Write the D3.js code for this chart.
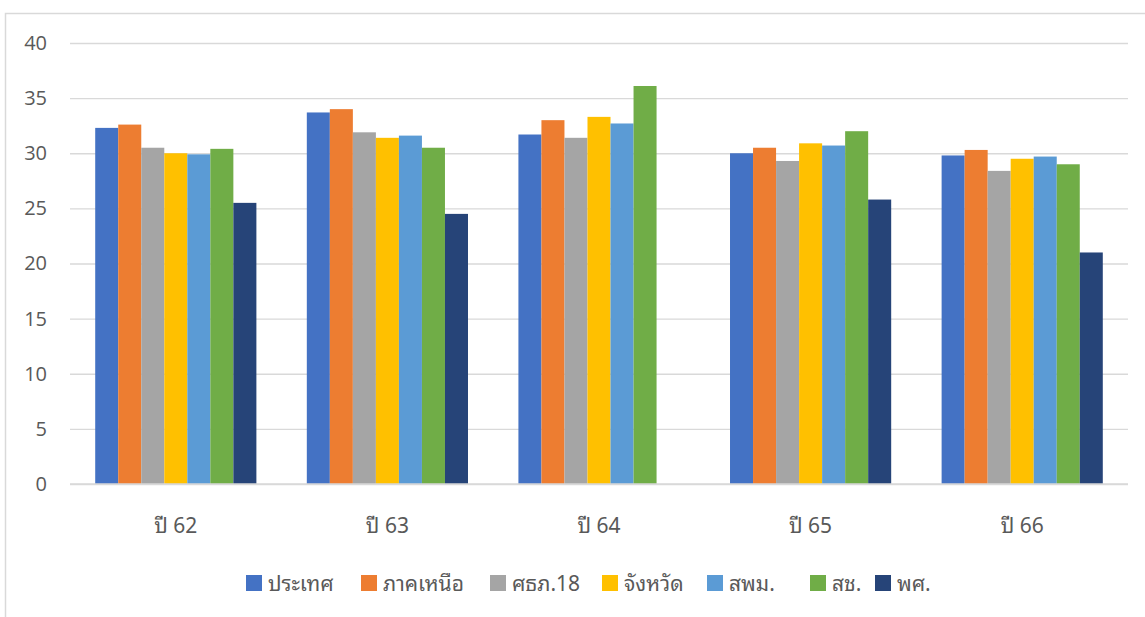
<!DOCTYPE html>
<html>
<head>
<meta charset="utf-8">
<script src="https://cdn.jsdelivr.net/npm/d3@7"></script>
<style>
  body { margin: 0; background: #fff; }
  svg text { font-family: "Noto Sans Thai Looped", "Leelawadee UI", Tahoma, "Noto Sans Thai", "Noto Sans", "Open Sans", sans-serif; fill: #595959; }
</style>
</head>
<body>
<svg id="barchart" width="1145" height="617"></svg>
<script>
(function () {
  // data
  var years = ["ปี 62", "ปี 63", "ปี 64", "ปี 65", "ปี 66"];
  var seriesNames = ["ประเทศ", "ภาคเหนือ", "ศธภ.18", "จังหวัด", "สพม.", "สช.", "พศ."];
  var prathet = [32.3, 33.7, 31.7, 30.0, 29.8];
  var phaknuea = [32.6, 34.0, 33.0, 30.5, 30.3];
  var sthp18 = [30.5, 31.9, 31.4, 29.3, 28.4];
  var changwat = [30.0, 31.4, 33.3, 30.9, 29.5];
  var sapm = [29.9, 31.6, 32.7, 30.7, 29.7];
  var sch = [30.4, 30.5, 36.1, 32.0, 29.0];
  var phs = [25.5, 24.5, null, 25.8, 21.0];
  var yTicks = [0, 5, 10, 15, 20, 25, 30, 35, 40];
  var colors = ["#4472C4", "#ED7D31", "#A5A5A5", "#FFC000", "#5B9BD5", "#70AD47", "#264478"];

  var seriesValues = [prathet, phaknuea, sthp18, changwat, sapm, sch, phs];

  var svg = d3.select("#barchart");

  //outer chart frame
  svg.append("rect")
    .attr("x", 5.5).attr("y", 13.5)
    .attr("width", 1160).attr("height", 620)
    .attr("fill", "none").attr("stroke", "#d9d9d9").attr("stroke-width", 1.5);

  var left = 70, right = 1128, top = 43, bottom = 484;

  var x = d3.scaleBand().domain(years).range([left, right]).paddingInner(0).paddingOuter(0);
  var gap = 2.19; // excel gap width
  var barW = x.bandwidth() / (seriesNames.length + gap);
  var xs = d3.scaleBand().domain(seriesNames)
    .range([barW * gap / 2, x.bandwidth() - barW * gap / 2]);

  var y = d3.scaleLinear().domain([0, 40]).range([bottom, top]);

  // gridlines + y labels
  var yAxis = svg.append("g")
    .attr("transform", "translate(" + left + ",0)")
    .call(d3.axisLeft(y).tickValues(yTicks).tickSize(-(right - left)).tickPadding(23))
    .call((g) => g.select(".domain").remove());
  yAxis.selectAll("line").attr("stroke", "#d9d9d9").attr("stroke-width", 1.3);
  yAxis.selectAll("text").style("font-size", "20px").style("font-family", "'Open Sans', 'Noto Sans', sans-serif");

  // bars
  var rows = [];
  seriesValues.forEach((vals, si) => {
    vals.forEach((v, yi) => {
      if (v != null) rows.push({ year: years[yi], name: seriesNames[si], value: v, c: colors[si] });
    });
  });

  svg.append("g").selectAll("rect")
    .data(rows)
    .join("rect")
    .attr("x", (d) => x(d.year) + xs(d.name))
    .attr("y", (d) => y(d.value))
    .attr("width", xs.bandwidth())
    .attr("height", (d) => y(0) - y(d.value))
    .attr("fill", (d) => d.c);

  // x axis line (redraw zero gridline over bars)
  svg.append("line")
    .attr("x1", left).attr("x2", right).attr("y1", y(0)).attr("y2", y(0))
    .attr("stroke", "#d9d9d9").attr("stroke-width", 1.3);

  // category labels
  svg.append("g").selectAll("text")
    .data(years)
    .join("text")
    .attr("x", (d) => x(d) + x.bandwidth() / 2)
    .attr("y", 533)
    .attr("text-anchor", "middle")
    .style("font-size", "21px")
    .text((d) => d);

  // legend
  var legendX = [246, 361, 490, 602, 707, 810, 875];
  var leg = svg.append("g").selectAll("g")
    .data(seriesNames)
    .join("g")
    .attr("transform", (d, i) => "translate(" + legendX[i] + ",575)");
  leg.append("rect").attr("width", 16).attr("height", 16).attr("fill", (d, i) => colors[i]);
  leg.append("text").attr("x", 22).attr("y", 16).style("font-size", "21px").text((d) => d);
})();
</script>
</body>
</html>
